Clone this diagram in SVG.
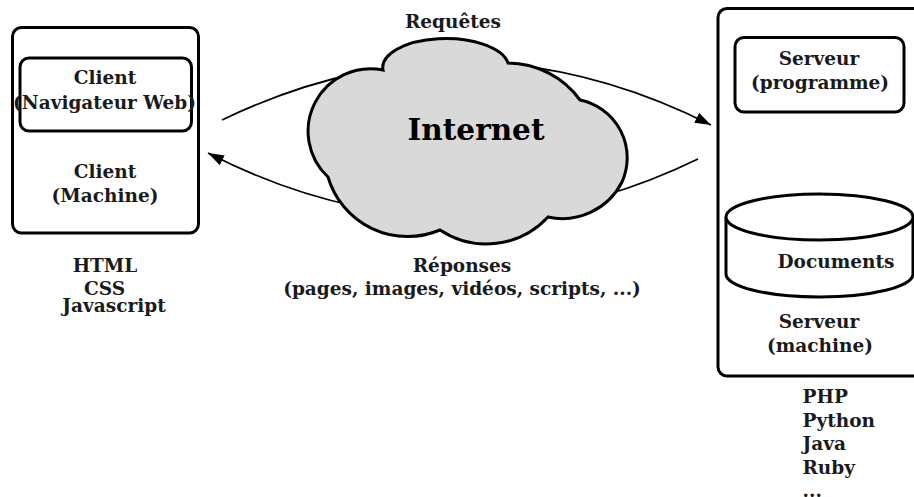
<svg xmlns="http://www.w3.org/2000/svg" width="914" height="497" viewBox="0 0 914 497">
<defs>
<style>
.box{fill:#fff;stroke:#000;stroke-width:3}
.t{font-family:"DejaVu Serif",serif;font-weight:bold;font-size:18.5px;fill:#1a1a1a;text-anchor:middle}
.tl{font-family:"DejaVu Serif",serif;font-weight:bold;font-size:18.5px;fill:#1a1a1a}
.big{font-family:"DejaVu Serif",serif;font-weight:bold;font-size:29.5px;fill:#000;text-anchor:middle}
.conn{fill:none;stroke:#000;stroke-width:1.8}
</style>
<marker id="ah" markerUnits="userSpaceOnUse" markerWidth="18" markerHeight="12" refX="16" refY="5.5" orient="auto-start-reverse">
<path d="M0,0 L16,5.5 L0,11 z" fill="#000"/>
</marker>
</defs>
<g id="connectors">
<path class="conn" d="M222,120 Q467,2 711,125" marker-end="url(#ah)"/>
<path class="conn" d="M698,159 Q452,278 208,153" marker-end="url(#ah)"/>
<path class="conn" d="M819,115 L819,191" marker-start="url(#ah)" marker-end="url(#ah)"/>
</g>
<g id="client">
<rect class="box" x="12.5" y="27.5" width="186" height="205.5" rx="9"/>
<rect class="box" x="20" y="58" width="171.5" height="73" rx="9"/>
<text class="t" x="105" y="84">Client</text>
<text class="t" x="104.5" y="108.5">(Navigateur Web)</text>
<text class="t" x="105" y="178">Client</text>
<text class="t" x="105" y="201.5">(Machine)</text>
</g>
<g id="client-langs">
<text class="t" x="105" y="272">HTML</text>
<text class="t" x="104.5" y="295">CSS</text>
<text class="t" x="114" y="311.5">Javascript</text>
</g>
<g id="internet">
<path d="M383,70 A63,29 0 0 1 508,63 A90,90 0 0 1 580,100 A59,59 0 0 1 622,182 A67,67 0 0 1 548,217 A84,84 0 0 1 440,230 A83,83 0 0 1 328,177 A62.5,62.5 0 0 1 383,70 Z" fill="#d9d9d9" stroke="#000" stroke-width="3"/>
<text class="big" x="476" y="140">Internet</text>
</g>
<g id="labels">
<text class="t" x="453" y="28">Requêtes</text>
<text class="t" x="462" y="272">Réponses</text>
<text class="t" x="462" y="295">(pages, images, vidéos, scripts, ...)</text>
</g>
<g id="server">
<rect class="box" x="718" y="8.5" width="220" height="367.5" rx="9"/>
<text class="t" x="819" y="328">Serveur</text>
<text class="t" x="820" y="352">(machine)</text>
</g>
<g id="server-program">
<rect class="box" x="735" y="37.5" width="169" height="74.5" rx="9"/>
<text class="t" x="819" y="65">Serveur</text>
<text class="t" x="820" y="88.5">(programme)</text>
</g>
<g id="documents">
<path class="box" d="M726,217 L726,274 A93.5,23 0 0 0 913,274 L913,217"/>
<ellipse class="box" cx="819.5" cy="217" rx="93.5" ry="23"/>
<text class="t" x="836" y="268">Documents</text>
</g>
<g id="server-langs">
<text class="tl" x="802.5" y="403">PHP</text>
<text class="tl" x="802.5" y="426.5">Python</text>
<text class="tl" x="802.5" y="450">Java</text>
<text class="tl" x="802.5" y="473.5">Ruby</text>
<text class="tl" x="802.5" y="497">...</text>
</g>
</svg>
